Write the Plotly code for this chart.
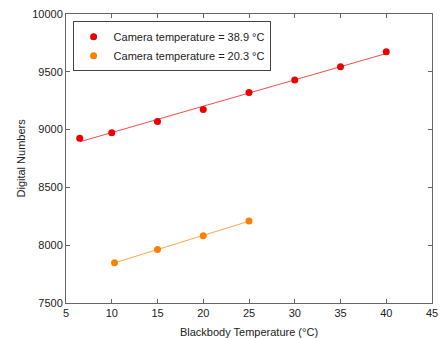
import numpy as np
import plotly.graph_objects as go

x_hot = [6.5, 10, 15, 20, 25, 30, 35, 40]
y_hot = [8926, 8972, 9070, 9174, 9321, 9428, 9544, 9674]
x_cold = [10.3, 15, 20, 25]
y_cold = [7849, 7962, 8081, 8210]
x_ticks = [5, 10, 15, 20, 25, 30, 35, 40, 45]
y_ticks = [7500, 8000, 8500, 9000, 9500, 10000]

red = "#ee0000"
orange = "#ff8000"

fig = go.Figure()
for xs, ys, col, name in [(x_hot, y_hot, red, "Camera temperature = 38.9 °C"),
                          (x_cold, y_cold, orange, "Camera temperature = 20.3 °C")]:
    p = np.polyfit(xs, ys, 1)
    xf = [min(xs), max(xs)]
    fig.add_trace(go.Scatter(x=xf, y=list(np.polyval(p, xf)), mode="lines",
                             line=dict(color=col, width=1), opacity=0.7, showlegend=False,
                             hoverinfo="skip"))
    fig.add_trace(go.Scatter(x=xs, y=ys, mode="markers", name=name,
                             marker=dict(color=col, size=7)))

axis_common = dict(showgrid=False, zeroline=False, showline=True, mirror="ticks",
                   linecolor="#666666", linewidth=1, ticks="inside", ticklen=4,
                   tickcolor="#666666", tickfont=dict(size=11, color="#222222"),
                   automargin=False)

fig.update_layout(
    width=440, height=338,
    margin=dict(l=66, r=8, t=14, b=35),
    paper_bgcolor="white", plot_bgcolor="white",
    font=dict(family="Liberation Sans, Arial, sans-serif", size=11, color="#222222"),
    xaxis=dict(range=[5, 45], tickvals=x_ticks, ticktext=[str(v) for v in x_ticks],
               title=dict(text="Blackbody Temperature (°C)", font=dict(size=11)),
               **axis_common),
    yaxis=dict(range=[7500, 10000], tickvals=y_ticks, ticktext=[str(v) for v in y_ticks],
               **axis_common),
    legend=dict(x=0.018, y=0.975, xanchor="left", yanchor="top",
                bordercolor="#444444", borderwidth=1, bgcolor="white",
                font=dict(size=11), itemsizing="trace",
                tracegroupgap=0),
    annotations=[dict(text="Digital Numbers", xref="paper", yref="paper",
                      x=(20 - 66) / 366, y=0.5, xanchor="center", yanchor="middle",
                      textangle=-90, showarrow=False, font=dict(size=11))],
)

fig.write_html("out.html", config={"displayModeBar": False, "responsive": False})
with open("out.html", "r", encoding="utf-8") as f:
    html = f.read()
html = html.replace("<body>", '<body style="margin:0;padding:0;overflow:hidden;">', 1)
with open("out.html", "w", encoding="utf-8") as f:
    f.write(html)
